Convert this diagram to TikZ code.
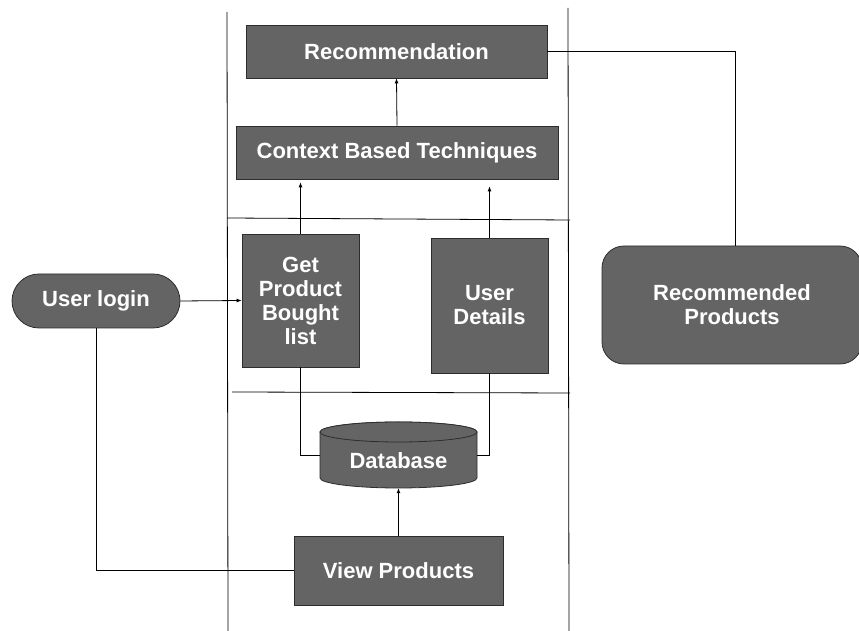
\documentclass[tikz,border=0pt]{standalone}
\usepackage{fontspec}
\setmainfont{Liberation Sans}
\usetikzlibrary{arrows.meta}
\definecolor{boxgray}{RGB}{100,100,100}
\definecolor{edgegray}{RGB}{45,45,45}
\tikzset{
  blk/.style={draw=edgegray, line width=0.8pt, fill=boxgray, text=white, inner sep=0pt,
    font=\bfseries\fontsize{22}{24}\selectfont, align=center},
  conn/.style={line width=0.8pt, draw=black},
  arr/.style={conn, -{Latex[length=5pt,width=4pt]}},
  lane/.style={line width=0.8pt, draw=black}
}
\begin{document}
\begin{tikzpicture}[x=1pt,y=1pt]
\useasboundingbox (0,0) rectangle (859,631);
\fill[white] (0,0) rectangle (859,631);
% lanes
\draw[lane] (227,619) -- (228,0);
\draw[lane] (568,623) -- (569,0);
\draw[lane] (227,413) -- (570,411);
\draw[lane] (232,239) -- (570,238);
% nodes
\node[blk, minimum width=301, minimum height=53] (rec) at (396.5,579.5) {Recommendation};
\node[blk, minimum width=322, minimum height=53] (ctx) at (397,478.5) {Context Based Techniques};
\node[blk, minimum width=117, minimum height=133] (gp) at (300.5,330.5) {Get\\Product\\Bought\\list};
\node[blk, minimum width=117, minimum height=135] (ud) at (489.5,325.5) {User\\Details};
\node[blk, minimum width=209, minimum height=69] (vp) at (398.5,60.5) {View Products};
\node[blk, rounded corners=27pt, minimum width=168, minimum height=54] (ul) at (96,330) {User login};
\node[blk, rounded corners=22pt, minimum width=260, minimum height=118] (rp) at (732,326) {Recommended\\Products};
% database cylinder
\node[inner sep=0pt, minimum width=157, minimum height=66] (db) at (398.5,176) {};
\fill[boxgray, draw=edgegray, line width=0.8pt]
  (320,199) -- (320,153) arc[start angle=180, end angle=360, x radius=78.5, y radius=10]
  -- (477,199) arc[start angle=0, end angle=180, x radius=78.5, y radius=10] -- cycle;
\draw[edgegray, line width=0.8pt, fill=boxgray] (398.5,199) ellipse[x radius=78.5, y radius=10];
\node[text=white, font=\bfseries\fontsize{22}{24}\selectfont] at (398.5,170) {Database};
% connectors
\draw[arr] (ctx.north) -- (rec.south);
\draw[arr, shorten >=3pt] (gp.north) -- (gp.north |- ctx.south);
\draw[arr, shorten >=7pt] (ud.north) -- (ud.north |- ctx.south);
\draw[conn] (gp.south) |- (db.west);
\draw[conn] (ud.south) |- (db.east);
\draw[arr] (vp.north) -- (db.south);
\draw[arr] (ul.east) -- (gp.west);
\draw[conn] (ul.south) |- (vp.west);
\coordinate (rpt) at ([xshift=3pt]rp.north);
\draw[conn] (rec.east) -| (rpt);
\end{tikzpicture}
\end{document}
